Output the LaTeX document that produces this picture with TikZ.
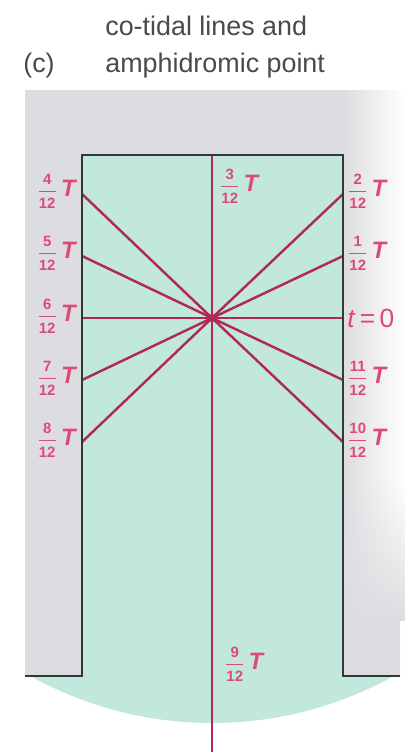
\documentclass[tikz,border=0pt]{standalone}
\usepackage{fontspec}
\setmainfont{Liberation Sans}
\usepackage{amsmath}
\usepackage{xcolor}
\usepackage{tikz}
\usetikzlibrary{shadings}
\definecolor{tdteal}{HTML}{C2E8DD}
\definecolor{tdgray}{HTML}{DDDDE1}
\definecolor{tdred}{HTML}{B02A58}
\definecolor{tdpink}{HTML}{DC4A7A}
\definecolor{tdink}{HTML}{2F3B39}
\definecolor{tdtext}{HTML}{4A4A4A}
\newcommand{\cotfrac}[2]{$\genfrac{}{}{0.6pt}{0}{\mbox{\fontsize{8.5}{8.5}\selectfont\bfseries #1}}{\mbox{\fontsize{8.5}{8.5}\selectfont\bfseries #2}}$\kern2pt{\fontsize{13.5}{13.5}\selectfont\bfseries\itshape T}}

\begin{document}
\begin{tikzpicture}[x=0.02cm, y=-0.02cm,
  wall/.style={draw=tdink, line width=1.3pt},
  cotidal/.style={draw=tdred, line width=1.4pt},
  tlabel/.style={text=tdpink, inner sep=0pt},
  title/.style={text=tdtext, font=\fontsize{15.3}{18}\selectfont, inner sep=0pt, anchor=base west}]
  \useasboundingbox (0,0) rectangle (405,752);
  % land
  \fill[tdgray] (25,90) -- (400,90) -- (400,676) -- (343,676) -- (343,155) -- (82,155) -- (82,676) -- (25,676) -- cycle;
  \shade[left color=tdgray, right color=white] (343,90) rectangle (405,480);
  \shade[upper left=tdgray, upper right=white, lower left=tdgray, lower right=tdgray] (343,480) rectangle (405,620);
  % sea
  \fill[tdteal] (82,155) rectangle (343,676);
  \begin{scope}
    \clip (0,676) rectangle (405,752);
    \fill[tdteal] (212,349) circle (374);
  \end{scope}
  % title
  \node[title] (title1) at (105,35) {co-tidal lines and};
  \node[title] (title2) at (105,72) {amphidromic point};
  \node[title] (panel) at (23,72) {(c)};
  % walls
  \coordinate (sw) at (25,676);
  \coordinate (se) at (400,676);
  \coordinate (top) at (212,155);
  \coordinate (bot) at (212,752);
  \coordinate (l4) at (82,194);
  \coordinate (l5) at (82,256);
  \coordinate (l6) at (82,318);
  \coordinate (l7) at (82,380);
  \coordinate (l8) at (82,442);
  \coordinate (r2) at (343,194);
  \coordinate (r1) at (343,256);
  \coordinate (r0) at (343,318);
  \coordinate (r11) at (343,380);
  \coordinate (r10) at (343,442);
  % co-tidal lines
  \node[circle, fill=tdpink!90, inner sep=0pt, minimum size=0.18cm] (amp) at (212,318) {};
  \draw[cotidal] (top) -- (bot);
  \draw[cotidal] (amp.center) -- (l4);
  \draw[cotidal] (amp.center) -- (l5);
  \draw[cotidal] (amp.center) -- (l6);
  \draw[cotidal] (amp.center) -- (l7);
  \draw[cotidal] (amp.center) -- (l8);
  \draw[cotidal] (amp.center) -- (r2);
  \draw[cotidal] (amp.center) -- (r1);
  \draw[cotidal] (amp.center) -- (r0);
  \draw[cotidal] (amp.center) -- (r11);
  \draw[cotidal] (amp.center) -- (r10);
  \draw[wall] (sw) -- (82,676) -- (82,155) -- (343,155) -- (343,676) -- (se);
  % labels
  \node[tlabel, anchor=base east] (lab4) at (76,196) {\cotfrac{4}{12}};
  \node[tlabel, anchor=base east] (lab5) at (76,258) {\cotfrac{5}{12}};
  \node[tlabel, anchor=base east] (lab6) at (76,321) {\cotfrac{6}{12}};
  \node[tlabel, anchor=base east] (lab7) at (76,383) {\cotfrac{7}{12}};
  \node[tlabel, anchor=base east] (lab8) at (76,445) {\cotfrac{8}{12}};
  \node[tlabel, anchor=base west] (lab2) at (347,196) {\cotfrac{2}{12}};
  \node[tlabel, anchor=base west] (lab1) at (347,258) {\cotfrac{1}{12}};
  \node[tlabel, anchor=west, font=\fontsize{15}{15}\selectfont] (lab0) at (347,318) {\textit{t}\,=\,0};
  \node[tlabel, anchor=base west] (lab11) at (347,383) {\cotfrac{11}{12}};
  \node[tlabel, anchor=base west] (lab10) at (347,445) {\cotfrac{10}{12}};
  \node[tlabel, anchor=base west] (lab3) at (219,191) {\cotfrac{3}{12}};
  \node[tlabel, anchor=base west] (lab9) at (224,669) {\cotfrac{9}{12}};
\end{tikzpicture}
\end{document}
